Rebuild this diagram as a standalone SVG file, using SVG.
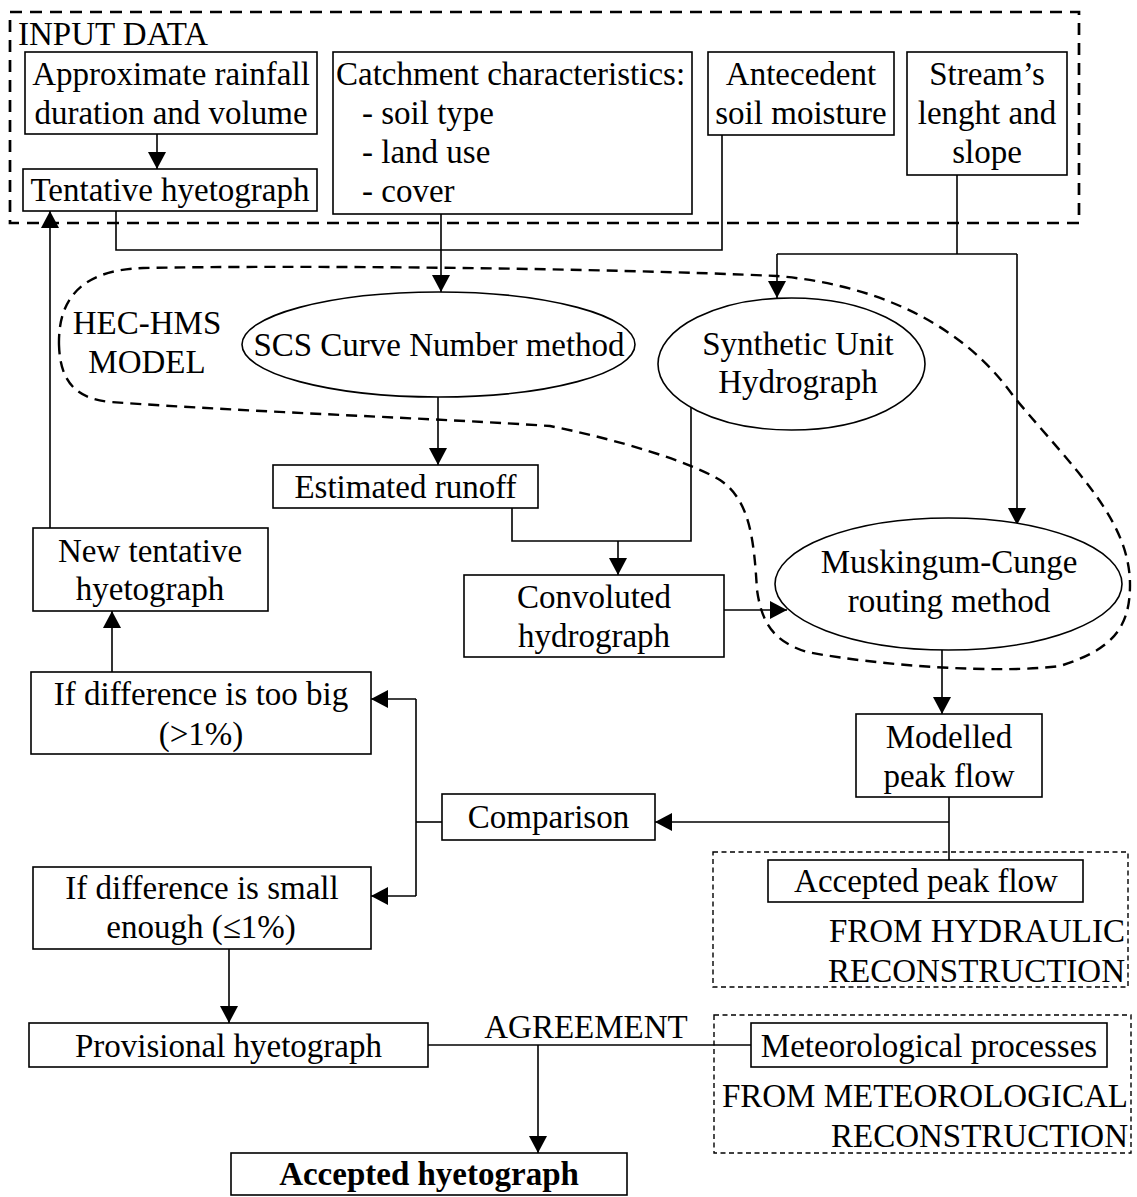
<svg xmlns="http://www.w3.org/2000/svg" width="1137" height="1197" viewBox="0 0 1137 1197">
  <style>
    text { font-family: "Liberation Serif", "Times New Roman", serif; font-size: 33px; fill: #000; }
    .c { text-anchor: middle; }
    .r { text-anchor: end; }
    .b { font-weight: bold; }
    .box { fill: #fff; stroke: #000; stroke-width: 1.6; }
    .ell { fill: #fff; stroke: #000; stroke-width: 1.6; }
    .line { fill: none; stroke: #000; stroke-width: 1.6; }
    .arr { fill: none; stroke: #000; stroke-width: 1.6; marker-end: url(#ah); }
    .zone-thick { fill: none; stroke: #000; stroke-width: 2.7; stroke-dasharray: 12 8; }
    .zone-model { fill: none; stroke: #000; stroke-width: 2.4; stroke-dasharray: 11 7; }
    .zone-thin { fill: none; stroke: #000; stroke-width: 1.4; stroke-dasharray: 5 3.5; }
  </style>
  <defs>
    <marker id="ah" markerUnits="userSpaceOnUse" markerWidth="17" markerHeight="18" refX="17" refY="9" orient="auto">
      <path d="M0,0 L17,9 L0,18 Z" fill="#000"/>
    </marker>
  </defs>

  <rect width="1137" height="1197" fill="#fff"/>

  <!-- grouping frames -->
  <g id="input-data-frame">
    <rect class="zone-thick" x="10" y="12" width="1069" height="211"/>
    <text x="18" y="45">INPUT DATA</text>
  </g>
  <g id="hec-hms-frame">
    <path class="zone-model" d="M59,345 C58,300 80,270 143,268 C300,265 600,268 777,276 C870,284 960,320 1014,397 C1075,470 1130,520 1130,585 C1130,630 1110,650 1060,666 C1000,674 880,666 807,652 C775,642 762,625 757,590 C754,540 750,500 720,480 C690,462 620,440 550,426 C450,419 250,412 110,402 C70,398 60,375 59,345 Z"/>
    <text class="c" x="147" y="334">HEC-HMS</text>
    <text class="c" x="147" y="373">MODEL</text>
  </g>
  <g id="hydraulic-frame">
    <rect class="zone-thin" x="713" y="852" width="415" height="135"/>
    <text class="r" x="1125" y="942">FROM HYDRAULIC</text>
    <text class="r" x="1125" y="982">RECONSTRUCTION</text>
  </g>
  <g id="meteorological-frame">
    <rect class="zone-thin" x="714" y="1015" width="417" height="138"/>
    <text class="r" x="1128" y="1107">FROM METEOROLOGICAL</text>
    <text class="r" x="1128" y="1147">RECONSTRUCTION</text>
  </g>

  <!-- connectors -->
  <g id="connectors">
    <path class="arr" d="M157,134 V169"/>
    <path class="line" d="M116,211 V250 H722 V135"/>
    <path class="arr" d="M441,214 V292"/>
    <path class="line" d="M957,175 V254"/>
    <path class="line" d="M777,254 H1017"/>
    <path class="arr" d="M777,254 V298"/>
    <path class="arr" d="M1017,254 V525"/>
    <path class="arr" d="M438,397 V465"/>
    <path class="line" d="M512,508 V541 H691 V407"/>
    <path class="arr" d="M618,541 V575"/>
    <path class="arr" d="M724,610 H787"/>
    <path class="arr" d="M942,650 V714"/>
    <path class="line" d="M949,797 V860"/>
    <path class="arr" d="M949,822 H655"/>
    <path class="line" d="M442,822 H416"/>
    <path class="line" d="M416,699 V896"/>
    <path class="arr" d="M416,699 H371"/>
    <path class="arr" d="M416,896 H371"/>
    <path class="arr" d="M112,672 V611"/>
    <path class="arr" d="M50,528 V211"/>
    <path class="arr" d="M229,949 V1023"/>
    <path class="line" d="M428,1045 H751"/>
    <path class="arr" d="M538,1045 V1153"/>
    <text class="c" x="586" y="1038">AGREEMENT</text>
  </g>

  <!-- input data nodes -->
  <g id="rainfall">
    <rect class="box" x="25" y="52" width="292" height="82"/>
    <text class="c" x="171" y="85">Approximate rainfall</text>
    <text class="c" x="171" y="124">duration and volume</text>
  </g>
  <g id="tentative-hyetograph">
    <rect class="box" x="23" y="169" width="294" height="42"/>
    <text class="c" x="170" y="201">Tentative hyetograph</text>
  </g>
  <g id="catchment">
    <rect class="box" x="333" y="52" width="359" height="162"/>
    <text x="336" y="85">Catchment characteristics:</text>
    <text x="362" y="124">- soil type</text>
    <text x="362" y="163">- land use</text>
    <text x="362" y="202">- cover</text>
  </g>
  <g id="soil-moisture">
    <rect class="box" x="708" y="52" width="186" height="83"/>
    <text class="c" x="801" y="85">Antecedent</text>
    <text class="c" x="801" y="124">soil moisture</text>
  </g>
  <g id="stream">
    <rect class="box" x="907" y="52" width="160" height="123"/>
    <text class="c" x="987" y="85">Stream’s</text>
    <text class="c" x="987" y="124">lenght and</text>
    <text class="c" x="987" y="163">slope</text>
  </g>

  <!-- model nodes -->
  <g id="scs-curve-number">
    <ellipse class="ell" cx="438.5" cy="344.5" rx="196.5" ry="52.5"/>
    <text class="c" x="439" y="356">SCS Curve Number method</text>
  </g>
  <g id="synthetic-unit-hydrograph">
    <ellipse class="ell" cx="791.5" cy="364" rx="133.5" ry="66"/>
    <text class="c" x="798" y="355">Synthetic Unit</text>
    <text class="c" x="798" y="393">Hydrograph</text>
  </g>
  <g id="estimated-runoff">
    <rect class="box" x="273" y="465" width="265" height="43"/>
    <text class="c" x="405.5" y="498">Estimated runoff</text>
  </g>
  <g id="convoluted-hydrograph">
    <rect class="box" x="464" y="575" width="260" height="82"/>
    <text class="c" x="594" y="608">Convoluted</text>
    <text class="c" x="594" y="647">hydrograph</text>
  </g>
  <g id="muskingum-cunge">
    <ellipse class="ell" cx="948.5" cy="584" rx="173.5" ry="66"/>
    <text class="c" x="949" y="573">Muskingum-Cunge</text>
    <text class="c" x="949" y="612">routing method</text>
  </g>

  <!-- calibration loop -->
  <g id="new-tentative-hyetograph">
    <rect class="box" x="33" y="528" width="235" height="83"/>
    <text class="c" x="150" y="562">New tentative</text>
    <text class="c" x="150" y="600">hyetograph</text>
  </g>
  <g id="difference-too-big">
    <rect class="box" x="31" y="672" width="340" height="82"/>
    <text class="c" x="201" y="705">If difference is too big</text>
    <text class="c" x="201" y="745">(&gt;1%)</text>
  </g>
  <g id="modelled-peak-flow">
    <rect class="box" x="856" y="714" width="186" height="83"/>
    <text class="c" x="949" y="748">Modelled</text>
    <text class="c" x="949" y="787">peak flow</text>
  </g>
  <g id="comparison">
    <rect class="box" x="442" y="794" width="213" height="46"/>
    <text class="c" x="548.5" y="828">Comparison</text>
  </g>
  <g id="accepted-peak-flow">
    <rect class="box" x="768" y="860" width="315" height="42"/>
    <text class="c" x="926" y="892">Accepted peak flow</text>
  </g>
  <g id="difference-small">
    <rect class="box" x="33" y="867" width="338" height="82"/>
    <text class="c" x="202" y="899">If difference is small</text>
    <text class="c" x="201" y="938">enough (≤1%)</text>
  </g>
  <g id="provisional-hyetograph">
    <rect class="box" x="29" y="1023" width="399" height="44"/>
    <text class="c" x="228.5" y="1057">Provisional hyetograph</text>
  </g>
  <g id="meteorological-processes">
    <rect class="box" x="751" y="1023" width="356" height="44"/>
    <text class="c" x="929" y="1057">Meteorological processes</text>
  </g>
  <g id="accepted-hyetograph">
    <rect class="box" x="231" y="1153" width="396" height="42"/>
    <text class="c b" x="429" y="1185">Accepted hyetograph</text>
  </g>
</svg>
